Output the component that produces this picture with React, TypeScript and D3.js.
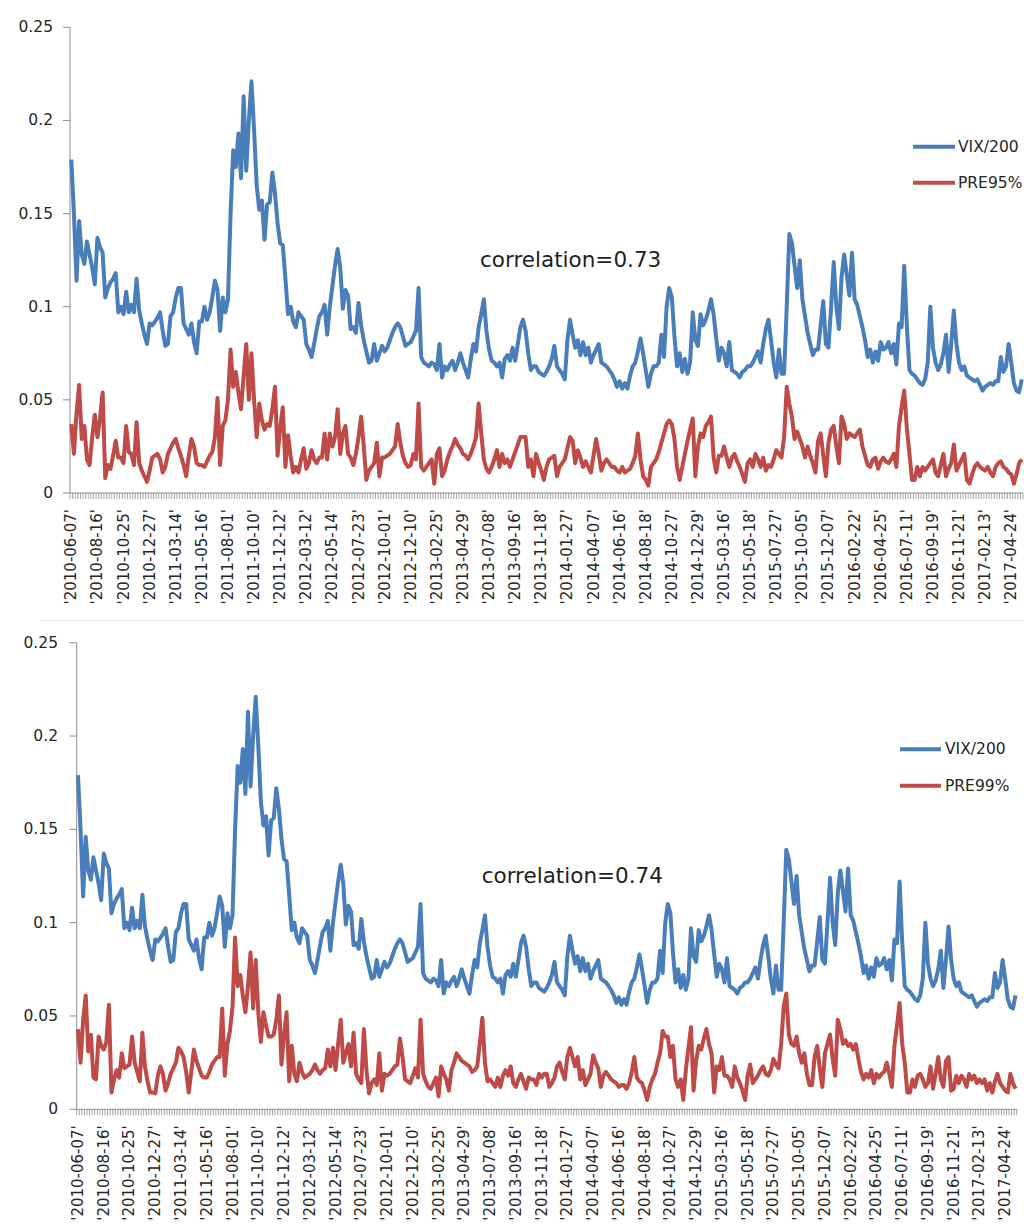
import React from 'react';
import * as d3 from 'd3';

const TICK_LABELS = [
  "'2010-06-07'", "'2010-08-16'", "'2010-10-25'", "'2010-12-27'", "'2011-03-14'", "'2011-05-16'",
  "'2011-08-01'", "'2011-10-10'", "'2011-12-12'", "'2012-03-12'", "'2012-05-14'", "'2012-07-23'",
  "'2012-10-01'", "'2012-12-10'", "'2013-02-25'", "'2013-04-29'", "'2013-07-08'", "'2013-09-16'",
  "'2013-11-18'", "'2014-01-27'", "'2014-04-07'", "'2014-06-16'", "'2014-08-18'", "'2014-10-27'",
  "'2014-12-29'", "'2015-03-16'", "'2015-05-18'", "'2015-07-27'", "'2015-10-05'", "'2015-12-07'",
  "'2016-02-22'", "'2016-04-25'", "'2016-07-11'", "'2016-09-19'", "'2016-11-21'", "'2017-02-13'",
  "'2017-04-24'"
];
const LABEL_EVERY = 10;

const VIX200 = [
  0.179, 0.150, 0.114, 0.146, 0.128, 0.123, 0.135, 0.128, 0.121, 0.112,
  0.137, 0.132, 0.129, 0.105, 0.110, 0.113, 0.115, 0.118, 0.097, 0.100,
  0.096, 0.108, 0.097, 0.101, 0.097, 0.115, 0.098, 0.091, 0.085, 0.080,
  0.091, 0.090, 0.092, 0.094, 0.097, 0.087, 0.079, 0.080, 0.095, 0.097,
  0.105, 0.110, 0.110, 0.091, 0.088, 0.085, 0.091, 0.081, 0.075, 0.092,
  0.092, 0.100, 0.093, 0.097, 0.105, 0.114, 0.109, 0.087, 0.105, 0.097,
  0.104, 0.150, 0.184, 0.175, 0.193, 0.169, 0.213, 0.173, 0.200, 0.221,
  0.195, 0.165, 0.152, 0.157, 0.136, 0.155, 0.156, 0.172, 0.161, 0.145,
  0.134, 0.133, 0.115, 0.096, 0.100, 0.092, 0.089, 0.097, 0.095, 0.093,
  0.080, 0.077, 0.073, 0.080, 0.088, 0.095, 0.097, 0.101, 0.085, 0.100,
  0.111, 0.122, 0.131, 0.121, 0.099, 0.109, 0.106, 0.088, 0.089, 0.086,
  0.102, 0.090, 0.082, 0.076, 0.070, 0.071, 0.080, 0.071, 0.075, 0.079,
  0.076, 0.078, 0.082, 0.086, 0.089, 0.091, 0.089, 0.084, 0.079, 0.080,
  0.081, 0.084, 0.087, 0.110, 0.073, 0.070, 0.069, 0.068, 0.070, 0.069,
  0.066, 0.080, 0.062, 0.068, 0.066, 0.069, 0.071, 0.066, 0.070, 0.075,
  0.070, 0.066, 0.062, 0.072, 0.080, 0.076, 0.089, 0.096, 0.104, 0.087,
  0.077, 0.071, 0.070, 0.068, 0.070, 0.062, 0.072, 0.074, 0.071, 0.078,
  0.071, 0.080, 0.089, 0.093, 0.087, 0.075, 0.066, 0.068, 0.068, 0.065,
  0.064, 0.063, 0.065, 0.068, 0.072, 0.079, 0.068, 0.066, 0.064, 0.061,
  0.082, 0.093, 0.085, 0.078, 0.082, 0.074, 0.081, 0.074, 0.078, 0.070,
  0.074, 0.077, 0.080, 0.070, 0.069, 0.068, 0.066, 0.064, 0.061, 0.057,
  0.060, 0.056, 0.059, 0.056, 0.063, 0.068, 0.070, 0.076, 0.083, 0.075,
  0.066, 0.057, 0.064, 0.068, 0.068, 0.070, 0.085, 0.073, 0.100, 0.110,
  0.105, 0.084, 0.068, 0.075, 0.065, 0.072, 0.064, 0.070, 0.097, 0.082,
  0.079, 0.096, 0.090, 0.093, 0.098, 0.104, 0.096, 0.083, 0.071, 0.078,
  0.075, 0.068, 0.081, 0.066, 0.065, 0.064, 0.062, 0.065, 0.066, 0.068,
  0.068, 0.070, 0.073, 0.076, 0.070, 0.080, 0.088, 0.093, 0.082, 0.070,
  0.062, 0.077, 0.064, 0.064, 0.100, 0.139, 0.134, 0.122, 0.110, 0.125,
  0.104, 0.095, 0.086, 0.080, 0.074, 0.077, 0.077, 0.090, 0.103, 0.080,
  0.078, 0.100, 0.124, 0.100, 0.088, 0.116, 0.128, 0.117, 0.106, 0.129,
  0.104, 0.101, 0.095, 0.089, 0.082, 0.073, 0.077, 0.070, 0.076, 0.071,
  0.081, 0.077, 0.078, 0.081, 0.075, 0.080, 0.069, 0.091, 0.089, 0.122,
  0.090, 0.066, 0.064, 0.063, 0.061, 0.059, 0.058, 0.061, 0.070, 0.100,
  0.078, 0.070, 0.066, 0.069, 0.075, 0.085, 0.065, 0.080, 0.098, 0.080,
  0.070, 0.066, 0.068, 0.063, 0.062, 0.061, 0.060, 0.061, 0.058, 0.055,
  0.057, 0.058, 0.059, 0.058, 0.060, 0.060, 0.073, 0.065, 0.068, 0.080,
  0.070, 0.059, 0.055, 0.054, 0.061
];

const PRE95 = [
  0.037, 0.021, 0.043, 0.058, 0.029, 0.036, 0.018, 0.015, 0.030, 0.042,
  0.030, 0.040, 0.054, 0.008, 0.015, 0.013, 0.020, 0.028, 0.019, 0.019,
  0.016, 0.036, 0.022, 0.021, 0.015, 0.038, 0.016, 0.012, 0.009, 0.006,
  0.012, 0.019, 0.020, 0.021, 0.018, 0.011, 0.014, 0.021, 0.024, 0.027,
  0.029, 0.024, 0.020, 0.015, 0.009, 0.020, 0.029, 0.025, 0.016, 0.015,
  0.015, 0.014, 0.017, 0.020, 0.022, 0.030, 0.051, 0.015, 0.036, 0.039,
  0.050, 0.077, 0.057, 0.065, 0.054, 0.045, 0.063, 0.080, 0.050, 0.075,
  0.050, 0.030, 0.048, 0.039, 0.034, 0.037, 0.036, 0.045, 0.057, 0.020,
  0.035, 0.046, 0.014, 0.031, 0.020, 0.011, 0.014, 0.011, 0.018, 0.024,
  0.013, 0.016, 0.023, 0.018, 0.016, 0.019, 0.019, 0.032, 0.018, 0.032,
  0.025, 0.030, 0.045, 0.021, 0.032, 0.036, 0.021, 0.019, 0.015, 0.021,
  0.030, 0.041, 0.025, 0.007, 0.012, 0.014, 0.016, 0.027, 0.009, 0.019,
  0.019, 0.020, 0.021, 0.023, 0.025, 0.037, 0.027, 0.020, 0.016, 0.014,
  0.015, 0.021, 0.018, 0.048, 0.014, 0.012, 0.014, 0.016, 0.018, 0.005,
  0.021, 0.024, 0.009, 0.012, 0.018, 0.022, 0.025, 0.029, 0.026, 0.024,
  0.021, 0.020, 0.018, 0.021, 0.025, 0.030, 0.048, 0.032, 0.018, 0.013,
  0.011, 0.014, 0.018, 0.023, 0.014, 0.021, 0.016, 0.018, 0.014, 0.018,
  0.022, 0.026, 0.030, 0.030, 0.030, 0.014, 0.018, 0.009, 0.021, 0.016,
  0.012, 0.007, 0.014, 0.018, 0.019, 0.020, 0.009, 0.014, 0.016, 0.018,
  0.024, 0.030, 0.028, 0.016, 0.023, 0.019, 0.014, 0.017, 0.014, 0.011,
  0.020, 0.029, 0.021, 0.012, 0.016, 0.018, 0.016, 0.014, 0.014, 0.012,
  0.011, 0.014, 0.011, 0.012, 0.013, 0.016, 0.020, 0.032, 0.018, 0.009,
  0.007, 0.004, 0.014, 0.016, 0.018, 0.022, 0.027, 0.032, 0.037, 0.039,
  0.037, 0.029, 0.014, 0.007, 0.014, 0.021, 0.028, 0.034, 0.040, 0.009,
  0.025, 0.032, 0.030, 0.036, 0.038, 0.041, 0.019, 0.011, 0.020, 0.020,
  0.025, 0.019, 0.014, 0.019, 0.021, 0.017, 0.014, 0.010, 0.006, 0.016,
  0.018, 0.014, 0.021, 0.018, 0.014, 0.019, 0.012, 0.015, 0.014, 0.018,
  0.023, 0.021, 0.019, 0.030, 0.057, 0.048, 0.041, 0.029, 0.033, 0.029,
  0.025, 0.019, 0.025, 0.020, 0.016, 0.011, 0.028, 0.032, 0.020, 0.009,
  0.027, 0.034, 0.036, 0.025, 0.016, 0.041, 0.037, 0.029, 0.032, 0.031,
  0.030, 0.032, 0.034, 0.025, 0.020, 0.015, 0.014, 0.018, 0.019, 0.013,
  0.017, 0.019, 0.017, 0.016, 0.018, 0.021, 0.014, 0.036, 0.046, 0.055,
  0.035, 0.021, 0.007, 0.007, 0.014, 0.009, 0.014, 0.012, 0.014, 0.016,
  0.018, 0.011, 0.009, 0.015, 0.021, 0.009, 0.013, 0.016, 0.026, 0.012,
  0.015, 0.018, 0.021, 0.007, 0.005, 0.010, 0.014, 0.016, 0.014, 0.013,
  0.012, 0.014, 0.011, 0.009, 0.014, 0.016, 0.017, 0.014, 0.013, 0.011,
  0.010, 0.005, 0.010, 0.016, 0.018
];

const PRE99 = [
  0.043, 0.025, 0.048, 0.061, 0.031, 0.040, 0.017, 0.016, 0.039, 0.034,
  0.032, 0.036, 0.056, 0.009, 0.016, 0.021, 0.017, 0.030, 0.022, 0.023,
  0.024, 0.039, 0.025, 0.020, 0.015, 0.041, 0.023, 0.015, 0.009, 0.009,
  0.0085, 0.018, 0.023, 0.019, 0.010, 0.014, 0.019, 0.022, 0.025, 0.033,
  0.031, 0.028, 0.020, 0.009, 0.020, 0.032, 0.026, 0.022, 0.018, 0.017,
  0.017, 0.020, 0.024, 0.026, 0.028, 0.028, 0.054, 0.018, 0.035, 0.042,
  0.055, 0.092, 0.066, 0.072, 0.061, 0.052, 0.066, 0.084, 0.054, 0.080,
  0.052, 0.036, 0.052, 0.045, 0.039, 0.039, 0.040, 0.048, 0.061, 0.024,
  0.040, 0.052, 0.015, 0.034, 0.019, 0.015, 0.025, 0.020, 0.017, 0.018,
  0.019, 0.021, 0.024, 0.021, 0.019, 0.021, 0.022, 0.032, 0.023, 0.033,
  0.021, 0.035, 0.048, 0.025, 0.030, 0.035, 0.023, 0.041, 0.019, 0.016,
  0.014, 0.043, 0.021, 0.0085, 0.014, 0.016, 0.013, 0.030, 0.010, 0.019,
  0.018, 0.019, 0.021, 0.023, 0.024, 0.038, 0.028, 0.016, 0.015, 0.014,
  0.018, 0.022, 0.017, 0.048, 0.019, 0.015, 0.012, 0.011, 0.014, 0.017,
  0.007, 0.023, 0.019, 0.016, 0.010, 0.021, 0.025, 0.030, 0.028, 0.026,
  0.025, 0.024, 0.023, 0.020, 0.021, 0.023, 0.035, 0.049, 0.025, 0.015,
  0.016, 0.014, 0.012, 0.017, 0.012, 0.018, 0.021, 0.018, 0.023, 0.014,
  0.012, 0.016, 0.019, 0.015, 0.011, 0.017, 0.016, 0.016, 0.013, 0.019,
  0.017, 0.019, 0.019, 0.012, 0.014, 0.017, 0.023, 0.025, 0.020, 0.016,
  0.028, 0.033, 0.028, 0.023, 0.028, 0.016, 0.021, 0.013, 0.016, 0.019,
  0.029, 0.025, 0.022, 0.012, 0.018, 0.020, 0.018, 0.016, 0.015, 0.014,
  0.012, 0.013, 0.013, 0.011, 0.014, 0.020, 0.028, 0.017, 0.015, 0.014,
  0.010, 0.005, 0.012, 0.016, 0.019, 0.025, 0.030, 0.042, 0.039, 0.039,
  0.028, 0.034, 0.016, 0.012, 0.016, 0.005, 0.021, 0.033, 0.044, 0.010,
  0.026, 0.034, 0.032, 0.038, 0.043, 0.035, 0.030, 0.009, 0.023, 0.021,
  0.028, 0.018, 0.018, 0.016, 0.012, 0.023, 0.017, 0.014, 0.010, 0.005,
  0.018, 0.024, 0.014, 0.016, 0.018, 0.021, 0.023, 0.019, 0.018, 0.021,
  0.027, 0.024, 0.022, 0.035, 0.055, 0.062, 0.040, 0.035, 0.034, 0.039,
  0.030, 0.025, 0.030, 0.019, 0.013, 0.013, 0.028, 0.034, 0.022, 0.012,
  0.030, 0.035, 0.040, 0.027, 0.018, 0.048, 0.043, 0.035, 0.037, 0.034,
  0.035, 0.032, 0.035, 0.027, 0.020, 0.016, 0.019, 0.017, 0.021, 0.014,
  0.019, 0.017, 0.019, 0.020, 0.025, 0.019, 0.012, 0.034, 0.045, 0.057,
  0.035, 0.025, 0.009, 0.009, 0.016, 0.012, 0.018, 0.019, 0.016, 0.012,
  0.014, 0.023, 0.011, 0.019, 0.028, 0.016, 0.012, 0.026, 0.028, 0.010,
  0.011, 0.018, 0.014, 0.018, 0.016, 0.012, 0.019, 0.016, 0.018, 0.014,
  0.016, 0.014, 0.016, 0.010, 0.014, 0.009, 0.015, 0.019, 0.014, 0.012,
  0.010, 0.009, 0.019, 0.014, 0.011
];

const Y_TICKS = [0, 0.05, 0.1, 0.15, 0.2, 0.25];
const BLUE = '#4A7EBB';
const RED = '#BE4B48';
const FONT = "'DejaVu Sans', sans-serif";
const AXIS = '#8c8c8c';
const TXT = '#262626';

type PanelProps = {
  left: number; step: number; yBottom: number; yTop: number; yLabelRight: number;
  red: number[]; redName: string; corr: string; corrX: number; corrY: number;
  legLineX0: number; legLineX1: number; legTextX: number; legY1: number; legY2: number;
};

function Panel(p: PanelProps) {
  const n = VIX200.length;
  const x = d3.scaleLinear().domain([0, n]).range([p.left, p.left + n * p.step]);
  const y = d3.scaleLinear().domain([0, 0.25]).range([p.yBottom, p.yTop]);
  const line = d3.line<number>().x((_, i) => x(i + 0.5)).y(d => y(d));
  const boundaries = d3.range(n + 1);
  const right = x(n);
  const LW = 4;
  return (
    <g>
      <line x1={p.left} x2={p.left} y1={p.yTop} y2={p.yBottom} stroke={AXIS} strokeWidth={1} />
      {Y_TICKS.map(t => (
        <g key={t}>
          <line x1={p.left - 7} x2={p.left} y1={y(t)} y2={y(t)} stroke={AXIS} strokeWidth={1} />
          <text x={p.yLabelRight} y={y(t)} textAnchor="end" dominantBaseline="central"
            fontFamily={FONT} fontSize={15.5} fill={TXT}>{d3.format('')(t)}</text>
        </g>
      ))}
      <line x1={p.left} x2={right} y1={p.yBottom} y2={p.yBottom} stroke={AXIS} strokeWidth={1} />
      {boundaries.map(b => (
        <line key={b} x1={x(b)} x2={x(b)} y1={p.yBottom} y2={p.yBottom + 6} stroke="#8a8a8a" strokeWidth={0.8} />
      ))}
      {TICK_LABELS.map((lab, k) => {
        const cx = x(k * LABEL_EVERY + 0.5);
        const ty = p.yBottom + 16;
        return (
          <text key={lab} transform={`translate(${cx},${ty}) rotate(-90)`} textAnchor="end"
            dominantBaseline="central" fontFamily={FONT} fontSize={15} fill={TXT}>{lab}</text>
        );
      })}
      <path d={line(VIX200) || ''} fill="none" stroke={BLUE} strokeWidth={LW} strokeLinejoin="round" />
      <path d={line(p.red) || ''} fill="none" stroke={RED} strokeWidth={LW} strokeLinejoin="round" />
      <text x={p.corrX} y={p.corrY} fontFamily={FONT} fontSize={21.5} fill="#1e1e1e">{p.corr}</text>
      <line x1={p.legLineX0} x2={p.legLineX1} y1={p.legY1} y2={p.legY1} stroke={BLUE} strokeWidth={LW} />
      <text x={p.legTextX} y={p.legY1} dominantBaseline="central" fontFamily={FONT} fontSize={15.5} fill={TXT}>VIX/200</text>
      <line x1={p.legLineX0} x2={p.legLineX1} y1={p.legY2} y2={p.legY2} stroke={RED} strokeWidth={LW} />
      <text x={p.legTextX} y={p.legY2} dominantBaseline="central" fontFamily={FONT} fontSize={15.5} fill={TXT}>{p.redName}</text>
    </g>
  );
}

export default function App() {
  return (
    <svg width={1024} height={1227} viewBox="0 0 1024 1227"
      style={{ position: 'absolute', left: 0, top: 0, background: '#fff' }}>
      <rect x={0} y={0} width={1024} height={1227} fill="#fff" />
      <Panel left={70} step={2.611} yBottom={493} yTop={27.3} yLabelRight={53}
        red={PRE95} redName="PRE95%" corr="correlation=0.73" corrX={480} corrY={267}
        legLineX0={913} legLineX1={955} legTextX={958} legY1={146.7} legY2={182.7} />
      <line x1={40} x2={1024} y1={620.5} y2={620.5} stroke="#e2e2e2" strokeWidth={1} />
      <Panel left={76.7} step={2.5756} yBottom={1109.3} yTop={642.7} yLabelRight={58}
        red={PRE99} redName="PRE99%" corr="correlation=0.74" corrX={481.7} corrY={883}
        legLineX0={900} legLineX1={941} legTextX={945} legY1={749.3} legY2={785.7} />
    </svg>
  );
}
